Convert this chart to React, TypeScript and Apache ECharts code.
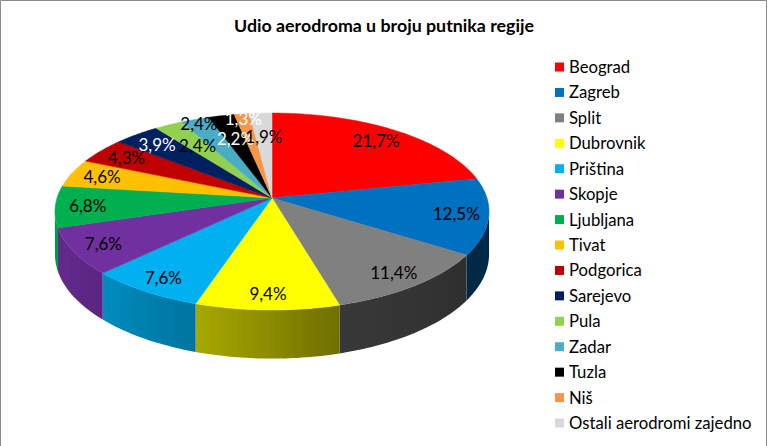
import React, { useEffect, useRef } from 'react';
import * as echarts from 'echarts';

const airports = [
  'Beograd', 'Zagreb', 'Split', 'Dubrovnik', 'Priština', 'Skopje', 'Ljubljana',
  'Tivat', 'Podgorica', 'Sarejevo', 'Pula', 'Zadar', 'Tuzla', 'Niš', 'Ostali aerodromi zajedno',
];
const shares = [21.7, 12.5, 11.4, 9.4, 7.6, 7.6, 6.8, 4.6, 4.3, 3.9, 2.4, 2.4, 2.2, 1.3, 1.9];
const colors = [
  '#ff0000', '#0070c0', '#808080', '#ffff00', '#00b0f0', '#7030a0', '#00b050',
  '#ffc000', '#c00000', '#002060', '#92d050', '#4bacc6', '#000000', '#f79646', '#d9d9d9',
];
const whiteLabels = ['Sarejevo', 'Tuzla', 'Niš'];
const title = 'Udio aerodroma u broju putnika regije';

const FONT = 'Lato, "Open Sans", sans-serif';
const CX = 272, CY = 198, RX = 215, RY = 96.6, P = 0.137, DEPTH = 42;
const LABEL_R = 0.85, SMALL_R_OUT = 0.95, SMALL_R_IN = 0.72, SMALL_SHARE = 3;

const total = shares.reduce((a, b) => a + b, 0);
const starts: number[] = [];
const ends: number[] = [];
{
  let acc = 0;
  shares.forEach((v) => {
    starts.push((acc / total) * 360);
    acc += v;
    ends.push((acc / total) * 360);
  });
}

function project(tDeg: number, r: number, drop: number): number[] {
  const t = (tDeg * Math.PI) / 180;
  const s = Math.sin(t), c = Math.cos(t);
  const w = 1 / (1 + P * c);
  return [CX + RX * r * s * w, CY - RY * r * c * w + drop * w];
}

const SHADE = [[90, 0.36], [125, 0.37], [165, 0.44], [198, 0.66], [225, 0.8], [250, 0.88], [280, 0.92]];
function shadeFactor(t: number): number {
  if (t <= SHADE[0][0]) return SHADE[0][1];
  for (let i = 1; i < SHADE.length; i++) {
    if (t <= SHADE[i][0]) {
      const [t0, f0] = SHADE[i - 1];
      const [t1, f1] = SHADE[i];
      return f0 + ((t - t0) / (t1 - t0)) * (f1 - f0);
    }
  }
  return SHADE[SHADE.length - 1][1];
}
function shade(hex: string, f: number): string {
  const n = parseInt(hex.slice(1), 16);
  const r = Math.round(((n >> 16) & 255) * f);
  const g = Math.round(((n >> 8) & 255) * f);
  const b = Math.round((n & 255) * f);
  return `rgb(${r},${g},${b})`;
}

const SIL = (Math.acos(-P) * 180) / Math.PI;

function renderSide(params: any) {
  const i = params.dataIndex;
  const a0 = Math.max(starts[i], SIL);
  const a1 = Math.min(ends[i], 360 - SIL);
  if (a1 <= a0) return { type: 'group', children: [] };
  const n = Math.max(2, Math.ceil(a1 - a0));
  const top: number[][] = [];
  const bottom: number[][] = [];
  for (let k = 0; k <= n; k++) {
    const t = a0 + ((a1 - a0) * k) / n;
    top.push(project(t, 1, 0));
    bottom.push(project(t, 1, DEPTH));
  }
  const pts = top.concat(bottom.reverse());
  const xs = pts.map((p) => p[0]);
  const xmin = Math.min(...xs), xmax = Math.max(...xs);
  const stops: { offset: number; color: string }[] = [];
  for (let k = 0; k <= 6; k++) {
    const t = a1 - ((a1 - a0) * k) / 6;
    const x = project(t, 1, 0)[0];
    const off = xmax > xmin ? Math.min(1, Math.max(0, (x - xmin) / (xmax - xmin))) : k / 6;
    stops.push({ offset: off, color: shade(colors[i], shadeFactor(t)) });
  }
  stops.sort((a, b) => a.offset - b.offset);
  return {
    type: 'polygon',
    shape: { points: pts },
    style: { fill: new echarts.graphic.LinearGradient(0, 0, 1, 0, stops) },
  };
}

function renderTop(params: any) {
  const i = params.dataIndex;
  const a0 = starts[i], a1 = ends[i];
  const n = Math.max(2, Math.ceil(a1 - a0));
  const pts: number[][] = [[CX, CY]];
  for (let k = 0; k <= n; k++) pts.push(project(a0 + ((a1 - a0) * k) / n, 1, 0));
  return {
    type: 'polygon',
    shape: { points: pts },
    style: { fill: colors[i], stroke: colors[i], lineWidth: 0.5 },
  };
}

function renderLabel(params: any) {
  const i = params.dataIndex;
  const mid = (starts[i] + ends[i]) / 2;
  let r = LABEL_R;
  if (shares[i] < SMALL_SHARE) r = i % 2 === 1 ? SMALL_R_OUT : SMALL_R_IN;
  const [x, y] = project(mid, r, 0);
  const pct = ((shares[i] / total) * 100).toFixed(1).replace('.', ',') + '%';
  return {
    type: 'text',
    x,
    y,
    style: {
      text: pct,
      fill: whiteLabels.includes(airports[i]) ? '#ffffff' : '#000000',
      fontSize: 17,
      fontFamily: FONT,
      align: 'center',
      verticalAlign: 'middle',
    },
  };
}

const sliceData = airports.map((name, i) => ({ name, value: shares[i] }));

export default function App() {
  const ref = useRef<HTMLDivElement>(null);
  useEffect(() => {
    if (!ref.current) return;
    const chart = echarts.init(ref.current, undefined, { renderer: 'svg' });
    chart.setOption({
      animation: false,
      backgroundColor: '#ffffff',
      color: colors,
      title: {
        text: title,
        left: 'center',
        top: 11,
        textStyle: { fontSize: 17.8, fontWeight: 'bold', fontFamily: FONT, color: '#000' },
      },
      legend: {
        orient: 'vertical',
        left: 550,
        top: 52,
        itemWidth: 9,
        itemHeight: 9,
        itemGap: 5.43,
        icon: 'rect',
        selectedMode: false,
        data: airports,
        textStyle: { fontSize: 16.7, lineHeight: 20, fontFamily: FONT, color: '#000' },
      },
      graphic: [
        {
          type: 'rect',
          shape: { x: 0.5, y: 0.5, width: 766, height: 470 },
          style: { fill: 'none', stroke: '#8a8a8a', lineWidth: 1 },
          silent: true,
          z: 100,
        },
      ],
      series: [
        {
          type: 'pie',
          radius: [0, 0],
          center: [CX, CY],
          silent: true,
          label: { show: false },
          labelLine: { show: false },
          data: sliceData,
          z: 1,
        },
        {
          type: 'custom',
          coordinateSystem: 'none',
          renderItem: renderSide,
          data: sliceData,
          silent: true,
          z: 2,
        },
        {
          type: 'custom',
          coordinateSystem: 'none',
          renderItem: renderTop,
          data: sliceData,
          silent: true,
          z: 3,
        },
        {
          type: 'custom',
          coordinateSystem: 'none',
          renderItem: renderLabel,
          data: sliceData,
          silent: true,
          z: 4,
        },
      ],
    });
    return () => chart.dispose();
  }, []);
  return (
    <div
      ref={ref}
      style={{ position: 'absolute', left: 0, top: 0, width: 768, height: 446 }}
    />
  );
}
